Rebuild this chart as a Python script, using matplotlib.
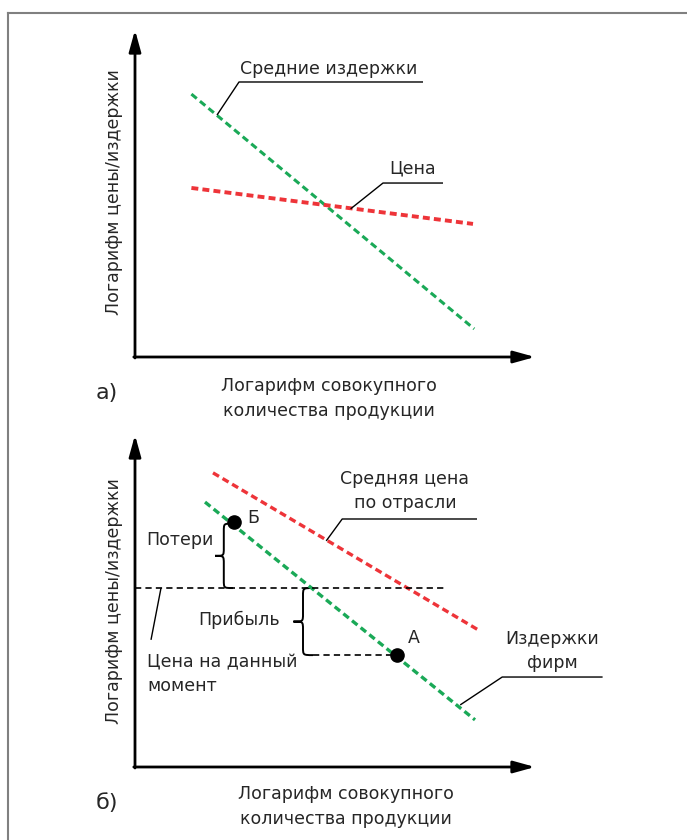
import matplotlib.pyplot as plt
from matplotlib.path import Path
from matplotlib.patches import PathPatch
from matplotlib.lines import Line2D

plt.rcParams['font.family'] = ['DejaVu Sans']
plt.rcParams['lines.scale_dashes'] = False

# --- panel a) data (axis units 0..10) ---
avg_cost_x = [1.41, 8.48]
avg_cost_y = [8.04, 0.86]
price_x = [1.41, 8.45]
price_y = [5.17, 4.07]

# --- panel б) data ---
industry_price_x = [1.95, 8.58]
industry_price_y = [8.86, 4.13]
firm_cost_x = [1.75, 8.50]
firm_cost_y = [7.98, 1.42]
current_price = 5.39
current_price_end = 7.78
point_b = (2.47, 7.38)
point_a = (6.54, 3.37)

GREEN = '#1aa957'
RED = '#ee3439'
TXT = '#262626'
FS = 12.5

ylabel = 'Логарифм цены/издержки'
xlabel = 'Логарифм совокупного\nколичества продукции'


def axis_arrows(ax):
    style = dict(arrowstyle='-|>,head_length=0.65,head_width=0.18', lw=2.0,
                 color='black', shrinkA=0, shrinkB=0, mutation_scale=20)
    ax.annotate('', xy=(10, 0), xytext=(-0.03, 0), arrowprops=style,
                annotation_clip=False)
    ax.annotate('', xy=(0, 10), xytext=(0, -0.03), arrowprops=style,
                annotation_clip=False)


def leader(ax, pts):
    xs, ys = zip(*pts)
    ax.plot(xs, ys, color='black', lw=1.0, clip_on=False,
            solid_capstyle='butt')


def brace(ax, xs, xt, xh_top, xh_bot, yt, yb, r=0.24):
    ym = (yt + yb) / 2
    verts = [(xh_top, yt), (xs, yt), (xs, yt), (xs, yt - r),
             (xs, ym + r),
             (xs, ym), (xs, ym), (xt, ym),
             (xs, ym), (xs, ym), (xs, ym - r),
             (xs, yb + r),
             (xs, yb), (xs, yb), (xh_bot, yb)]
    codes = [Path.MOVETO] + [Path.CURVE4] * 3 + [Path.LINETO] + \
            [Path.CURVE4] * 6 + [Path.LINETO] + [Path.CURVE4] * 3
    ax.add_patch(PathPatch(Path(verts, codes), fill=False, lw=1.4,
                           edgecolor='black', clip_on=False))


fig = plt.figure(figsize=(6.87, 8.40), dpi=100)

# frame of the page (left and top edges only visible)
fig.add_artist(Line2D([8 / 687, 8 / 687], [0, 1 - 13 / 840],
                      color='#808080', lw=1.5, transform=fig.transFigure))
fig.add_artist(Line2D([8 / 687, 1], [1 - 13 / 840, 1 - 13 / 840],
                      color='#808080', lw=1.5, transform=fig.transFigure))

# ---------------- panel a) ----------------
ax1 = fig.add_axes([135 / 687, 1 - 357 / 840, 400 / 687, 327 / 840])
ax1.set_xlim(0, 10)
ax1.set_ylim(0, 10)
ax1.axis('off')
axis_arrows(ax1)

ax1.plot(avg_cost_x, avg_cost_y, color=GREEN, lw=2.2, dashes=(5, 3))
ax1.plot(price_x, price_y, color=RED, lw=2.8, dashes=(5, 3))

leader(ax1, [(2.05, 7.40), (2.60, 8.41), (7.20, 8.41)])
ax1.text(4.85, 8.82, 'Средние издержки', fontsize=FS, color=TXT,
         ha='center', va='center')
leader(ax1, [(5.39, 4.53), (6.20, 5.32), (7.70, 5.32)])
ax1.text(6.95, 5.76, 'Цена', fontsize=FS, color=TXT, ha='center', va='center')

ax1.text(-0.53, 5.05, ylabel, fontsize=FS, color=TXT, rotation=90,
         ha='center', va='center')
ax1.text(4.85, -1.27, xlabel, fontsize=FS, color=TXT, ha='center',
         va='center', linespacing=1.45)
ax1.text(-0.7, -1.1, 'а)', fontsize=16, color=TXT, ha='center', va='center')

# ---------------- panel б) ----------------
ax2 = fig.add_axes([135 / 687, 1 - 767 / 840, 400 / 687, 332 / 840])
ax2.set_xlim(0, 10)
ax2.set_ylim(0, 10)
ax2.axis('off')
axis_arrows(ax2)

ax2.plot(industry_price_x, industry_price_y, color=RED, lw=2.4, dashes=(5, 3))
ax2.plot(firm_cost_x, firm_cost_y, color=GREEN, lw=2.4, dashes=(5, 3))
ax2.plot([0, current_price_end], [current_price, current_price],
         color='black', lw=1.2, dashes=(4.5, 3))
ax2.plot([4.45, point_a[0]], [point_a[1], point_a[1]],
         color='black', lw=1.2, dashes=(4.5, 3))

ax2.plot(*point_b, 'o', color='black', markersize=9.5)
ax2.plot(*point_a, 'o', color='black', markersize=9.5)
ax2.text(2.95, 7.50, 'Б', fontsize=FS, color=TXT, ha='center', va='center')
ax2.text(6.98, 3.89, 'А', fontsize=FS, color=TXT, ha='center', va='center')

brace(ax2, 2.22, 2.0, 2.42, 2.45, point_b[1] - 0.05, current_price)
brace(ax2, 4.2, 3.96, 4.45, 4.45, current_price, point_a[1])
ax2.text(1.12, 6.84, 'Потери', fontsize=FS, color=TXT, ha='center',
         va='center')
ax2.text(2.6, 4.43, 'Прибыль', fontsize=FS, color=TXT, ha='center',
         va='center')

leader(ax2, [(0.65, current_price), (0.40, 3.83)])
ax2.text(0.30, 2.80, 'Цена на данный\nмомент', fontsize=FS, color=TXT,
         ha='left', va='center', linespacing=1.45)

leader(ax2, [(4.78, 6.81), (5.18, 7.47), (8.55, 7.47)])
ax2.text(6.75, 8.31, 'Средняя цена\nпо отрасли', fontsize=FS, color=TXT,
         ha='center', va='center', linespacing=1.45)

leader(ax2, [(8.13, 1.87), (9.18, 2.71), (11.69, 2.71)])
ax2.text(10.43, 3.49, 'Издержки\nфирм', fontsize=FS, color=TXT,
         ha='center', va='center', linespacing=1.45)

ax2.text(-0.53, 5.0, ylabel, fontsize=FS, color=TXT, rotation=90,
         ha='center', va='center')
ax2.text(5.28, -1.19, xlabel, fontsize=FS, color=TXT, ha='center',
         va='center', linespacing=1.45)
ax2.text(-0.7, -1.08, 'б)', fontsize=16, color=TXT, ha='center', va='center')

fig.savefig('out.png', dpi=100)
